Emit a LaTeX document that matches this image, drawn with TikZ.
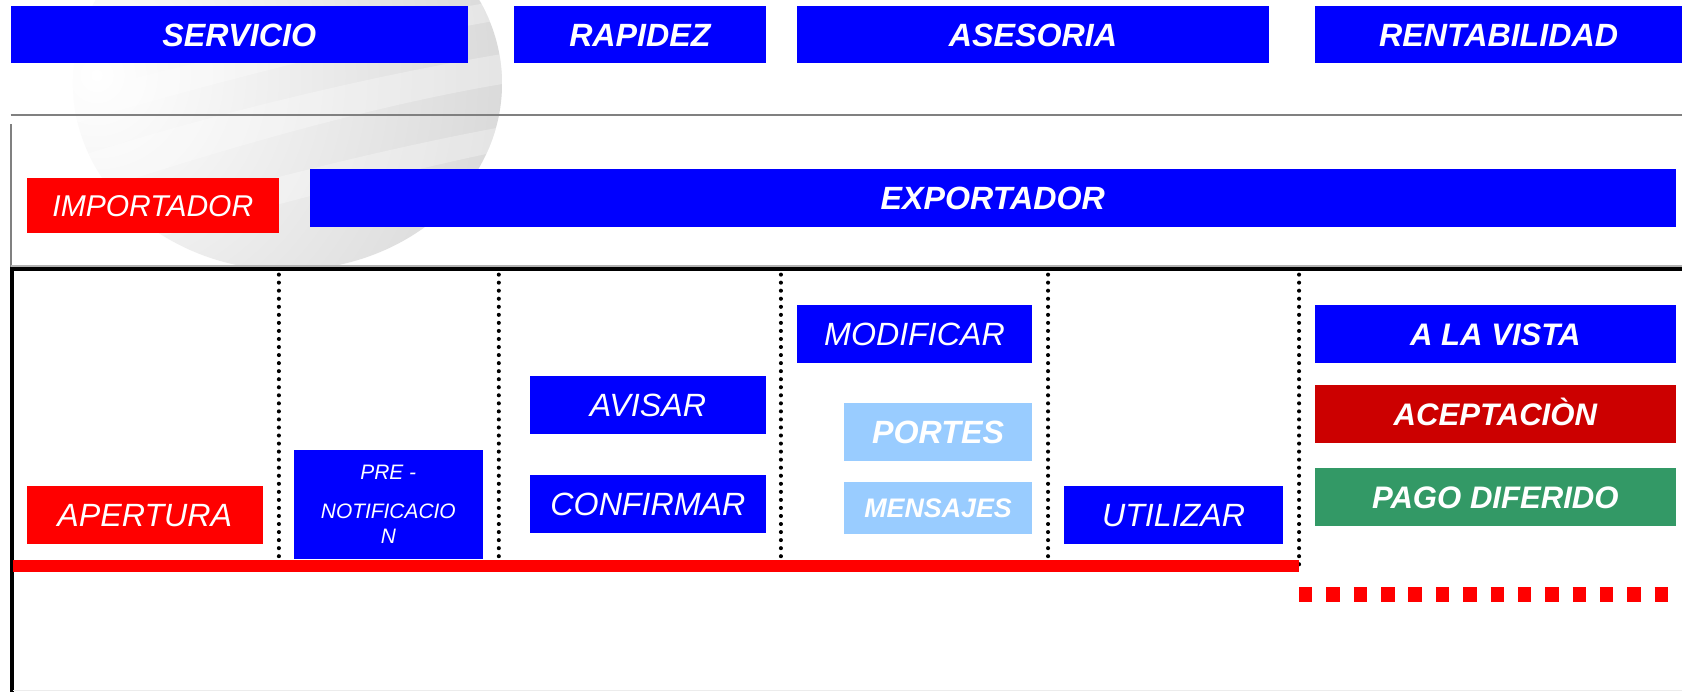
\documentclass[tikz,border=0pt]{standalone}
\usepackage{fontspec}
\setmainfont{Liberation Sans}
\definecolor{pblue}{RGB}{0,0,255}
\definecolor{pred}{RGB}{255,0,0}
\definecolor{pdred}{RGB}{204,0,0}
\definecolor{pgreen}{RGB}{51,153,102}
\definecolor{plight}{RGB}{153,204,255}
\tikzset{
  box/.style={inner sep=0pt, outer sep=0pt, text=white, align=center},
  bi/.style={box, font=\fontsize{30}{36}\selectfont\bfseries\itshape, text height=21.5pt, text depth=0pt},
  it/.style={box, font=\fontsize{30}{36}\selectfont\itshape, text height=21.5pt, text depth=0pt},
  dotline/.style={line width=3.8pt, dash pattern=on 0pt off 7.5pt, line cap=round, black},
}
\begin{document}
\begin{tikzpicture}[x=1pt,y=-1pt]
\useasboundingbox (0,0) rectangle (1568,645);
\fill[white] (0,0) rectangle (1568,645);
% watermark swirl
\begin{scope}
\clip (0,0) rectangle (1568,249);
\clip (268,78) ellipse [x radius=200, y radius=174];
\shade[inner color=white, outer color=gray!32] (90,70) circle (420);
\fill[white, opacity=0.3] (60,150) .. controls (200,105) and (350,70) .. (470,50) -- (470,78) .. controls (350,98) and (200,140) .. (60,188) -- cycle;
\fill[white, opacity=0.3] (60,222) .. controls (200,178) and (350,140) .. (470,118) -- (470,140) .. controls (350,165) and (220,200) .. (60,246) -- cycle;
\fill[white, opacity=0.3] (60,90) .. controls (200,52) and (350,20) .. (470,0) -- (470,18) .. controls (350,38) and (200,76) .. (60,118) -- cycle;
\end{scope}
% frame lines
\draw[gray, line width=2.3pt] (10,107) -- (1568,107);
\draw[gray, line width=2.3pt] (10.5,116) -- (10.5,250);
\draw[gray!60, line width=1pt] (10,248) -- (1568,248);
\draw[black, line width=4pt] (10,251) -- (1568,251);
\draw[black, line width=3.5pt] (11,249) -- (11,645);
\draw[gray!15, line width=1pt] (12,644) -- (1568,644);
% top headers
\node[bi, fill=pblue, minimum width=426pt, minimum height=53pt] (servicio) at (223,32.5) {SERVICIO};
\node[bi, fill=pblue, minimum width=235pt, minimum height=53pt] (rapidez) at (596.5,32.5) {RAPIDEZ};
\node[bi, fill=pblue, minimum width=440pt, minimum height=53pt] (asesoria) at (963,32.5) {ASESORIA};
\node[bi, fill=pblue, minimum width=342pt, minimum height=53pt] (rentab) at (1397,32.5) {RENTABILIDAD};
% actors
\node[it, fill=pred, minimum width=235pt, minimum height=51pt, font=\fontsize{28}{34}\selectfont\itshape, text height=20pt] (importador) at (142.5,191.5) {IMPORTADOR};
\node[bi, fill=pblue, minimum width=1273pt, minimum height=54pt] (exportador) at (925.5,184.5) {EXPORTADOR};
% dividers
\coordinate (d1t) at (260,256); \coordinate (d1b) at (260,528);
\coordinate (d2t) at (465,256); \coordinate (d2b) at (465,528);
\coordinate (d3t) at (728,256); \coordinate (d3b) at (728,528);
\coordinate (d4t) at (977,256); \coordinate (d4b) at (977,528);
\coordinate (d5t) at (1211,256); \coordinate (d5b) at (1211,528);
\draw[dotline] (d1t) -- (d1b);
\draw[dotline] (d2t) -- (d2b);
\draw[dotline] (d3t) -- (d3b);
\draw[dotline] (d4t) -- (d4b);
\draw[dotline] (d5t) -- (d5b);
% steps
\node[it, fill=pred, minimum width=220pt, minimum height=54pt] (apertura) at (135,480) {APERTURA};
\node[box, fill=pblue, minimum width=176pt, minimum height=101.5pt, font=\fontsize{19.5}{23.5}\selectfont\itshape] (prenot) at (362,470.25) {PRE -\\[12pt]NOTIFICACIO\\N};
\node[it, fill=pblue, minimum width=220pt, minimum height=54pt] (avisar) at (604,377.5) {AVISAR};
\node[it, fill=pblue, minimum width=220pt, minimum height=54pt] (confirmar) at (604,470) {CONFIRMAR};
\node[it, fill=pblue, minimum width=219pt, minimum height=54pt] (modificar) at (852.5,311) {MODIFICAR};
\node[bi, fill=plight, minimum width=175pt, minimum height=54pt] (portes) at (874.5,403) {PORTES};
\node[bi, fill=plight, minimum width=175pt, minimum height=49pt, font=\fontsize{25}{30}\selectfont\bfseries\itshape, text height=18pt] (mensajes) at (874.5,473.5) {MENSAJES};
\node[it, fill=pblue, minimum width=204pt, minimum height=54pt] (utilizar) at (1094,480) {UTILIZAR};
\node[bi, fill=pblue, minimum width=336pt, minimum height=54pt, font=\fontsize{29}{35}\selectfont\bfseries\itshape] (vista) at (1394,311) {A LA VISTA};
\node[bi, fill=pdred, minimum width=336pt, minimum height=54pt, font=\fontsize{29}{35}\selectfont\bfseries\itshape] (acept) at (1394,386) {ACEPTACIÒN};
\node[bi, fill=pgreen, minimum width=336pt, minimum height=54pt, font=\fontsize{29}{35}\selectfont\bfseries\itshape] (pago) at (1394,463) {PAGO DIFERIDO};
% time lines
\coordinate (ls) at (12,528);
\coordinate (le) at (1211,528);
\coordinate (ds) at (1211,554.5);
\coordinate (de) at (1568,554.5);
\draw[pred, line width=11pt] (ls) -- (le);
\draw[pred, line width=14pt, dash pattern=on 12.5pt off 13pt] (ds) -- (de);
\end{tikzpicture}
\end{document}
